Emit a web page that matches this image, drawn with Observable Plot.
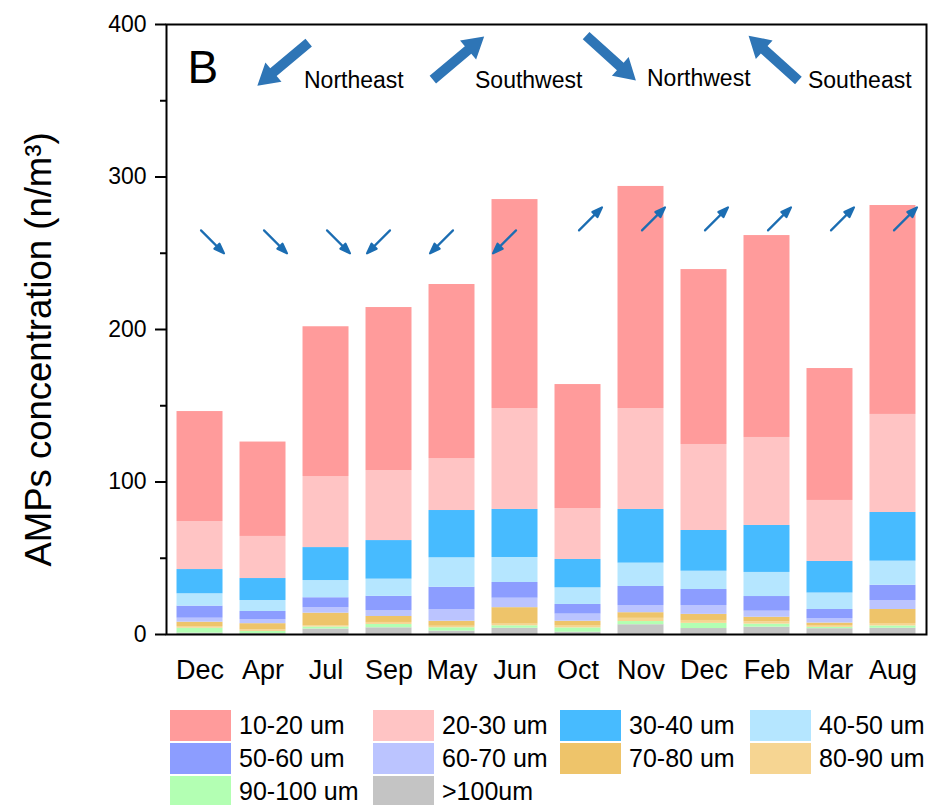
<!DOCTYPE html>
<html>
<head>
<meta charset="utf-8">
<script src="https://cdn.jsdelivr.net/npm/d3@7"></script>
<script src="https://cdn.jsdelivr.net/npm/@observablehq/plot@0.6"></script>
<style>
  html, body { margin: 0; padding: 0; background: white; }
  #chart { width: 932px; }
  #legend {
    display: grid;
    grid-template-columns: 203px 187px 190px 180px;
    row-gap: 2px;
    margin: 10px 0 0 170px;
    font-family: "Liberation Sans", Arial, sans-serif;
    font-size: 25px;
    color: black;
  }
  .item { display: flex; align-items: center; height: 31px; }
  .sw { width: 61px; height: 31px; margin-right: 8px; flex: none; }
</style>
</head>
<body>
<div id="chart"></div>
<div id="legend"></div>
<script>
// ---- data ----
const months = ["Dec", "Apr", "Jul", "Sep", "May", "Jun", "Oct", "Nov", "Dec", "Feb", "Mar", "Aug"];
const sizes = ["10-20 um", "20-30 um", "30-40 um", "40-50 um", "50-60 um", "60-70 um", "70-80 um", "80-90 um", "90-100 um", ">100um"];
const colors = ["#ff9b9b", "#ffc4c4", "#47bbff", "#b5e6ff", "#8c9dff", "#bbc4ff", "#eec46a", "#f6d592", "#b3ffb3", "#c4c4c4"];

const s10_20  = [72.1, 61.9, 98.2, 106.9, 114.1, 137.0, 81.3, 145.6, 114.7, 132.4, 86.5, 137.0];
const s20_30  = [31.5, 27.6, 46.6, 45.9, 34.1, 66.2, 33.4, 66.2, 56.4, 57.7, 40.0, 64.3];
const s30_40  = [15.9, 14.4, 21.6, 25.3, 31.0, 31.5, 18.6, 35.2, 26.7, 30.8, 20.7, 31.9];
const s40_50  = [8.1, 7.2, 11.3, 11.3, 19.3, 16.4, 10.9, 15.3, 12.0, 15.8, 10.8, 15.8];
const s50_60  = [7.9, 5.3, 6.6, 9.3, 14.8, 10.3, 6.3, 12.5, 10.5, 9.6, 6.1, 10.0];
const s60_70  = [2.6, 2.7, 3.5, 3.9, 7.5, 6.2, 4.7, 4.7, 5.8, 4.0, 2.8, 5.9];
const s70_80  = [2.9, 4.1, 8.4, 3.9, 3.3, 10.8, 2.8, 3.7, 4.0, 3.0, 1.6, 9.2];
const s80_90  = [1.1, 1.0, 0.7, 1.3, 1.0, 1.1, 1.6, 2.1, 1.9, 1.5, 1.2, 1.6];
const s90_100 = [3.2, 1.5, 1.3, 2.2, 2.2, 1.6, 2.8, 2.1, 3.4, 2.0, 0.9, 1.5];
const s100    = [0.9, 0.5, 3.6, 4.4, 2.2, 4.1, 1.5, 6.4, 3.9, 4.8, 3.8, 4.1];
const series = [s10_20, s20_30, s30_40, s40_50, s50_60, s60_70, s70_80, s80_90, s90_100, s100];

// wind direction of each sample (arrow glyph per bar)
const wind = ["Northwest", "Northwest", "Northwest", "Northeast", "Northeast", "Northeast",
              "Southwest", "Southwest", "Southwest", "Southwest", "Southwest", "Southwest"];
const windNames = ["Northeast", "Southwest", "Northwest", "Southeast"];
const windAngle = {Northeast: 225, Southwest: 45, Northwest: 135, Southeast: 315};

// ---- tables built from the arrays ----
const keys = months.map((m, i) => i);
const rows = [];
for (let s = sizes.length - 1; s >= 0; --s) {
  keys.forEach(i => rows.push({key: i, size: sizes[s], value: series[s][i]}));
}
const windRows = keys.map(i => ({key: i, wind: wind[i]}));

// legend arrows at the top (placement only)
const windLegend = [
  {name: "Northeast", key: 1, dx: 20, y: 374, rot: 230, tdx: 41, ty: 363},
  {name: "Southwest", key: 4, dx: 6.5, y: 378, rot: 50, tdx: 23, ty: 363},
  {name: "Northwest", key: 7, dx: -30, y: 378, rot: 132, tdx: 6, ty: 364.6},
  {name: "Southeast", key: 9, dx: 6.5, y: 378, rot: 312, tdx: 41, ty: 363}
];

const bigArrow = {
  draw(ctx, l) {
    const s = 5, h = 12.5, hl = 21;
    ctx.moveTo(-s, 0);
    ctx.lineTo(-s, -(l - hl));
    ctx.lineTo(-h, -(l - hl));
    ctx.lineTo(0, -l);
    ctx.lineTo(h, -(l - hl));
    ctx.lineTo(s, -(l - hl));
    ctx.lineTo(s, 0);
    ctx.closePath();
  }
};
const smallArrow = {
  draw(ctx, l) {
    ctx.moveTo(0, 0);
    ctx.lineTo(0, -(l - 6));
    ctx.moveTo(-3.6, -(l - 10));
    ctx.lineTo(0, -l);
    ctx.lineTo(3.6, -(l - 10));
    ctx.closePath();
  }
};

const font = "'Liberation Sans', Arial, sans-serif";

const chart = Plot.plot({
  width: 932,
  height: 700,
  marginLeft: 166,
  marginRight: 6,
  marginTop: 24,
  marginBottom: 66,
  style: {fontFamily: font, color: "black", background: "white"},
  x: {domain: keys, paddingInner: 0.27, paddingOuter: 0.167, round: false, axis: null},
  y: {domain: [0, 400], axis: null},
  color: {domain: sizes, range: colors},
  marks: [
    Plot.barY(rows, {x: "key", y: "value", fill: "size"}),
    Plot.vector(windRows, {
      x: "key", y: 265, length: 32.5, anchor: "start", dx: 1,
      rotate: d => windAngle[d.wind], shape: smallArrow,
      stroke: "#1b6db2", fill: "#1b6db2", strokeWidth: 2.2
    }),
    ...windLegend.map(w => Plot.vector([w], {
      x: "key", y: "y", length: 67, anchor: "middle", dx: w.dx,
      rotate: "rot", shape: bigArrow, fill: "#2e75b6", stroke: "none"
    })),
    ...windLegend.map(w => Plot.text([w], {
      x: "key", y: "ty", text: "name", dx: w.tdx, textAnchor: "start",
      fontSize: 23, fill: "black"
    })),
    Plot.text(["B"], {text: d => d, frameAnchor: "top-left", dx: 21, dy: 26, lineAnchor: "top",
      textAnchor: "start", fontSize: 46, fill: "black"}),
    Plot.axisY({ticks: [0, 100, 200, 300, 400], tickSize: 11, tickPadding: 9, fontSize: 23,
      strokeWidth: 2, label: null}),
    Plot.axisY({ticks: [50, 150, 250, 350], tickSize: 6, strokeWidth: 2,
      tickFormat: () => "", label: null}),
    Plot.axisX({tickSize: 0, tickPadding: 25, fontSize: 27, tickFormat: i => months[i], label: null}),
    Plot.text(["AMPs concentration (n/m³)"], {text: d => d, frameAnchor: "left", dx: -127, dy: 20,
      rotate: -90, textAnchor: "middle", lineAnchor: "middle", fontSize: 36.5, fill: "black"}),
    Plot.frame({stroke: "black", strokeWidth: 2})
  ]
});
document.getElementById("chart").appendChild(chart);

// legend (row-major, 4 columns)
const legend = document.getElementById("legend");
sizes.forEach((s, i) => {
  const item = document.createElement("div");
  item.className = "item";
  const sw = document.createElement("span");
  sw.className = "sw";
  sw.style.background = colors[i];
  const t = document.createElement("span");
  t.textContent = s;
  item.appendChild(sw);
  item.appendChild(t);
  legend.appendChild(item);
});
</script>
</body>
</html>
